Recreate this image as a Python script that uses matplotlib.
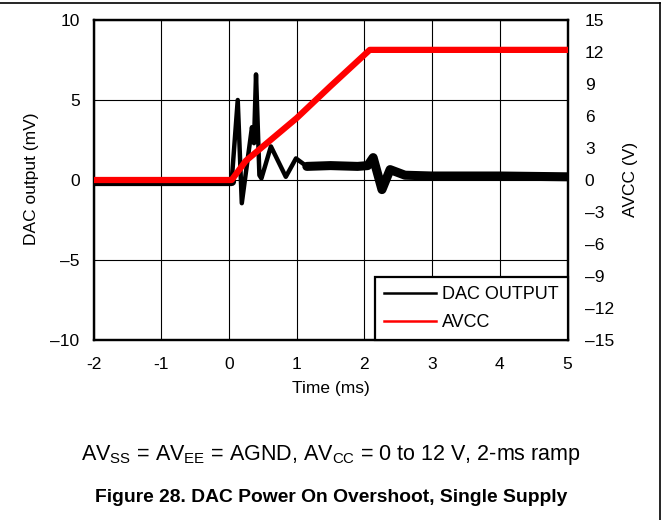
import numpy as np
import matplotlib
matplotlib.use("Agg")
import matplotlib.pyplot as plt
from matplotlib.lines import Line2D

plt.rcParams['font.family'] = ['Liberation Sans', 'DejaVu Sans']
plt.rcParams['mathtext.fontset'] = 'custom'
plt.rcParams['mathtext.rm'] = 'Liberation Sans'
plt.rcParams['mathtext.default'] = 'regular'

# DAC output trace (time in ms, output in mV)
dac_t = [-2.0, 0.04, 0.13, 0.19, 0.34, 0.37, 0.40, 0.45, 0.48, 0.62, 0.84, 0.99,
         1.15, 1.5, 1.9, 2.05, 2.13, 2.26, 2.38, 2.6, 3.0, 4.0, 5.0]
dac_mv = [-0.1, -0.1, 5.0, -1.45, 3.3, 2.3, 6.6, 0.3, 0.1, 2.1, 0.2, 1.35,
          0.85, 0.9, 0.85, 0.9, 1.4, -0.6, 0.65, 0.3, 0.25, 0.25, 0.2]

# AVCC supply ramp (time in ms, volts)
avcc_t = [-2.0, 0.04, 0.25, 1.0, 1.5, 2.08, 5.0]
avcc_v = [0.0, 0.0, 1.8, 5.8, 8.8, 12.2, 12.2]

x_ticks = [-2, -1, 0, 1, 2, 3, 4, 5]
x_labels = ['-2', '-1', '0', '1', '2', '3', '4', '5']
left_ticks = [-10, -5, 0, 5, 10]
left_labels = ['\u201310', '\u20135', '0', '5', '10']
right_ticks = [-15, -12, -9, -6, -3, 0, 3, 6, 9, 12, 15]
right_labels = ['\u201315', '\u201312', '\u20139', '\u20136', '\u20133', '0', '3', '6', '9', '12', '15']

fig = plt.figure(figsize=(6.69, 5.20), dpi=100)
ax = fig.add_axes([93.5 / 669, 1 - 340 / 520, 474 / 669, 320 / 520])
ax2 = ax.twinx()

t = np.array(dac_t)
v = np.array(dac_mv)
# flat parts of the trace are a wide noise band on the scope
noisy = (t <= 0.04) | (t >= 1.15)
ax.plot(t, v, color='black', lw=3.2, zorder=3)
ax.plot(t, np.where(noisy, v, np.nan), color='black', lw=6.5, zorder=3,
        solid_capstyle='round')

ax2.plot(avcc_t, avcc_v, color='#ff0000', lw=4.5, zorder=4)

ax.set_xlim(-2, 5)
ax.set_ylim(-10, 10)
ax2.set_ylim(-15, 15)
ax.set_xticks(x_ticks)
ax.set_xticklabels(x_labels)
ax.set_yticks(left_ticks)
ax.set_yticklabels(left_labels)
ax2.set_yticks(right_ticks)
ax2.set_yticklabels(right_labels)
ax.grid(True, color='black', lw=0.8)
ax.tick_params(axis='x', length=0, pad=12, labelsize=12.5)
ax.tick_params(axis='y', length=0, pad=10, labelsize=12.5)
ax2.tick_params(axis='y', length=0, pad=12.5, labelsize=12.5)
for a in (ax, ax2):
    for s in a.spines.values():
        s.set_linewidth(1.6)

handles = [Line2D([], [], color='black', lw=1.8), Line2D([], [], color='#ff0000', lw=1.8)]
leg = ax2.legend(handles, ['DAC OUTPUT', 'AVCC'], loc='lower right', borderaxespad=0,
                 fontsize=13, fancybox=False, framealpha=1, edgecolor='black',
                 handlelength=2.9, handletextpad=0.3, labelspacing=0.6, borderpad=0.5)
leg.get_frame().set_linewidth(1.6)
leg.set_zorder(10)

fig.text(31.7 / 669, 1 - 179 / 520, 'DAC output (mV)', rotation=90, ha='center', va='center', fontsize=12.5)
fig.text(631 / 669, 1 - 179 / 520, 'AVCC (V)', rotation=90, ha='center', va='center', fontsize=12.5)
fig.text(330.5 / 669, 1 - 389 / 520, 'Time (ms)', ha='center', va='center', fontsize=12.5)
fig.text(331 / 669, 1 - 455 / 520,
         r'AV$_{SS}$ = AV$_{EE}$ = AGND, AV$_{CC}$ = 0 to 12 V, 2-ms ramp',
         ha='center', va='center', fontsize=15.5)
fig.text(331 / 669, 1 - 498 / 520, 'Figure 28. DAC Power On Overshoot, Single Supply',
         ha='center', va='center', fontsize=13.9, fontweight='bold')

# page frame edges (top and right)
fig.add_artist(Line2D([0, 660 / 669], [1 - 3 / 520, 1 - 3 / 520], color='black', lw=1.2))
fig.add_artist(Line2D([660 / 669, 660 / 669], [1 - 3 / 520, 0], color='black', lw=1.2))

fig.savefig('out.png', dpi=100)
